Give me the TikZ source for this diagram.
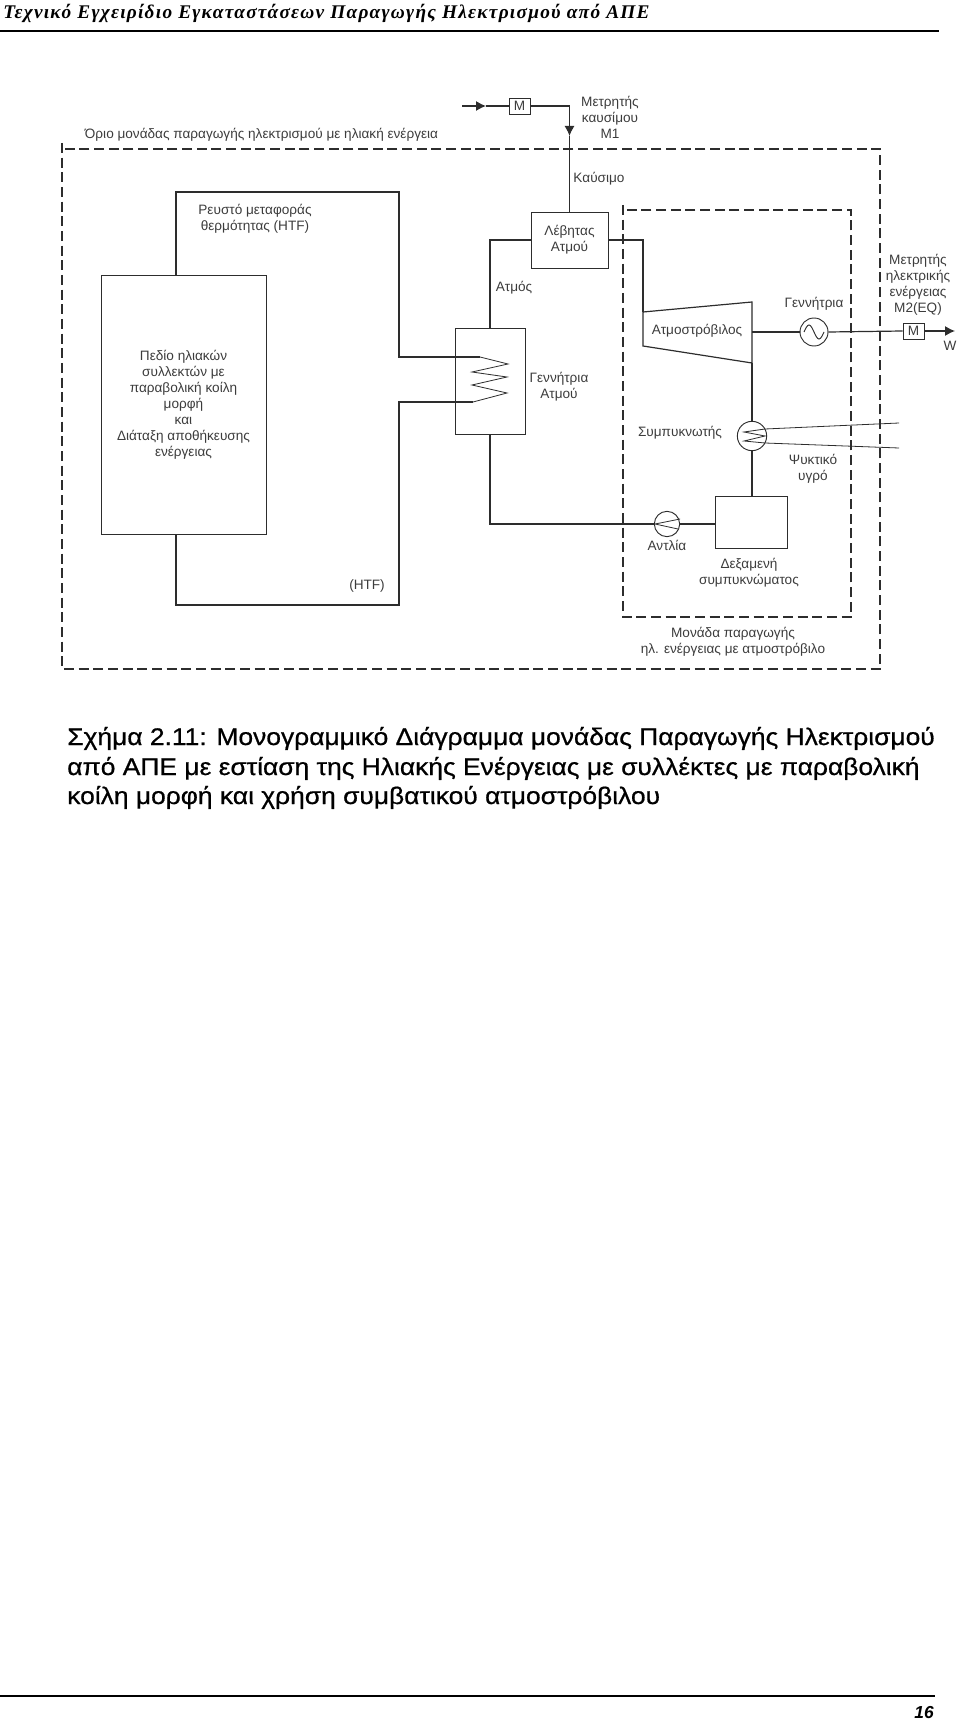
\documentclass[tikz,border=0pt]{standalone}
\usepackage{fontspec}
\usepackage{xcolor}
\setmainfont{Liberation Sans}
\newfontfamily\headfont[LetterSpace=6.5]{Liberation Serif}
\newfontfamily\capfont[FakeStretch=1.1,FakeBold=0.7]{Liberation Sans}
\usetikzlibrary{arrows.meta}
\definecolor{ink}{RGB}{60,60,60}
\definecolor{wire}{RGB}{45,45,45}
\tikzset{
  tag/.style     = {text=ink, align=center, inner sep=0pt, font=\fontsize{10.2}{12}\selectfont},
  unit/.style    = {draw=wire, line width=0.7pt, fill=white, text=ink, align=center,
                    inner sep=0pt, font=\fontsize{10.2}{12}\selectfont},
  meter/.style   = {unit, minimum width=15.75pt, minimum height=12pt},
  disc/.style    = {draw=wire, line width=0.7pt, fill=white, circle, inner sep=0pt},
  pipe/.style    = {draw=wire, line width=0.9pt},
  htf/.style     = {draw=wire, line width=0.8pt},
  flow/.style    = {pipe, -{Latex[length=7.5pt,width=7.5pt]}},
  coil/.style    = {draw=wire, line width=0.6pt},
  limit/.style   = {draw=wire, line width=0.9pt, dash pattern=on 7.5pt off 3.5pt},
  caption/.style = {anchor=base west, inner sep=0pt, font=\capfont\fontsize{18}{22}\selectfont},
}
\begin{document}
\begin{tikzpicture}[x=0.75pt,y=-0.75pt]
\useasboundingbox (0,0) rectangle (960,1722);
% page header and footer
\node[anchor=base west, inner sep=0pt, font=\headfont\bfseries\itshape\fontsize{14.5}{16}\selectfont] (head) at (3,19)
  {Τεχνικό Εγχειρίδιο Εγκαταστάσεων Παραγωγής Ηλεκτρισμού από ΑΠΕ};
\coordinate (headl) at (0,31);
\coordinate (headr) at (939,31);
\draw[line width=0.8pt] (headl) -- (headr);
\coordinate (footl) at (0,1696);
\coordinate (footr) at (935,1696);
\draw[line width=0.8pt] (footl) -- (footr);
\node[anchor=base east, inner sep=0pt, font=\bfseries\itshape\fontsize{13}{16}\selectfont] (pageno) at (934,1718) {16};

% boundaries
\draw[limit] (62,143) -- (62,669) -- (880,669) -- (880,149) -- (65,149);
\draw[limit] (623,205) -- (623,617) -- (851,617) -- (851,210) -- (626,210);

% equipment
\node[unit, minimum width=123.75pt, minimum height=194.25pt] (solar) at (183.5,404.5)
  {Πεδίο ηλιακών\\συλλεκτών με\\παραβολική κοίλη\\μορφή\\και\\Διάταξη αποθήκευσης\\ενέργειας};
\node[unit, minimum width=57.75pt, minimum height=42pt] (boiler) at (569.5,240) {Λέβητας\\Ατμού};
\node[unit, minimum width=52.5pt, minimum height=79.5pt] (sg) at (490,381) {};
\node[unit, minimum width=54pt, minimum height=39pt] (tank) at (751,522) {};
\node[meter] (mfuel) at (519.5,106) {M};
\node[meter] (mpower) at (913.5,331) {M};
\node[disc, minimum size=21pt] (gen) at (814,332) {};
\node[disc, minimum size=22pt] (cond) at (752,436) {};
\node[disc, minimum size=19pt] (pump) at (667,524) {};

% turbine outline
\coordinate (tbin) at (643,312);
\coordinate (tbtop) at (752,302);
\coordinate (tbbot) at (752,363);
\coordinate (tbout) at (752,332);
\draw[pipe] (tbin) -- (tbtop) -- (tbbot) -- (643,346) -- cycle;
\node[tag] (turbine) at (697,331) {Ατμοστρόβιλος};

% heat transfer fluid loop through the steam generator
\coordinate (htfout) at (176,275);
\coordinate (htfin) at (176,534);
\coordinate (coilin) at (480,357);
\coordinate (coilout) at (473,402);
\draw[htf] (htfout) |- (399,192) |- (coilin);
\draw[htf] (htfin) |- (399,605) |- (coilout);
\draw[coil] (coilin) -- (508,364) -- (472,372) -- (507,377) -- (472,385) -- (507,393) -- (coilout);

% steam and water circuit
\draw[pipe] (boiler.west) -| (sg.north);
\draw[pipe] (boiler.east) -| (tbin);
\draw[pipe] (tbbot) -- (cond.north);
\draw[pipe] (cond.south) -- (cond.south |- tank.north);
\draw[pipe] (tank.west |- pump.east) -- (pump.east);
\draw[pipe] (pump.west) -| (sg.south);

% fuel line
\coordinate (fuelin) at (462,106);
\coordinate (fueltip) at (486,106);
\coordinate (droptip) at (569.5,136);
\draw[flow] (fuelin) -- (fueltip);
\draw[pipe] (fueltip) -- (mfuel.west);
\draw[flow] (mfuel.east) -| (droptip);
\draw[pipe] (droptip) -- (boiler.north);

% electrical output
\coordinate (wout) at (955,331);
\draw[pipe] (tbout) -- (gen.west);
\draw[pipe] (gen.east) -- (mpower.west);
\draw[flow] (mpower.east) -- (wout);
\draw[coil, line width=0.7pt] (gen.center) ++(-10,0) sin ++(5,-7) cos ++(5,7) sin ++(5,7) cos ++(5,-7);

% condenser and pump symbols
\coordinate (coolatop) at (765,429);
\coordinate (coolabot) at (765,443);
\coordinate (coolbtop) at (899,423);
\coordinate (coolbbot) at (899,448);
\draw[coil] (coolatop) -- (744,432) -- (765,436) -- (744,441) -- (coolabot);
\draw[coil] (coolatop) -- (coolbtop);
\draw[coil] (coolabot) -- (coolbbot);
\draw[coil] (pump.east) ++(0,-5) -- (655,524) -- (678,529);

% labels
\node[tag] (lbllimit) at (261.5,135) {Όριο μονάδας παραγωγής ηλεκτρισμού με ηλιακή ενέργεια};
\node[tag] (lblmfuel) at (610,117) {Μετρητής\\καυσίμου\\M1};
\node[tag] (lblfuel) at (599,179) {Καύσιμο};
\node[tag] (lblhtfa) at (255,219) {Ρευστό μεταφοράς\\θερμότητας (HTF)};
\node[tag] (lblsteam) at (514,288) {Ατμός};
\node[tag] (lblsg) at (559,387) {Γεννήτρια\\Ατμού};
\node[tag] (lblgen) at (814,304) {Γεννήτρια};
\node[tag] (lblmpower) at (918,285) {Μετρητής\\ηλεκτρικής\\ενέργειας\\M2(EQ)};
\node[tag] (lblw) at (950,346) {W};
\node[tag] (lblcond) at (680,433) {Συμπυκνωτής};
\node[tag] (lblcool) at (813,469) {Ψυκτικό\\υγρό};
\node[tag] (lblpump) at (667,545) {Αντλία};
\node[tag] (lbltank) at (749,573) {Δεξαμενή\\συμπυκνώματος};
\node[tag] (lblunit) at (733,642) {Μονάδα παραγωγής\\ηλ. ενέργειας με ατμοστρόβιλο};
\node[tag] (lblhtfb) at (367,586) {(HTF)};

% caption
\node[caption] (capa) at (67,745) {Σχήμα 2.11: Μονογραμμικό Διάγραμμα μονάδας Παραγωγής Ηλεκτρισμού};
\node[caption] (capb) at (67,775) {από ΑΠΕ με εστίαση της Ηλιακής Ενέργειας με συλλέκτες με παραβολική};
\node[caption] (capc) at (67,804) {κοίλη μορφή και χρήση συμβατικού ατμοστρόβιλου};
\end{tikzpicture}
\end{document}
